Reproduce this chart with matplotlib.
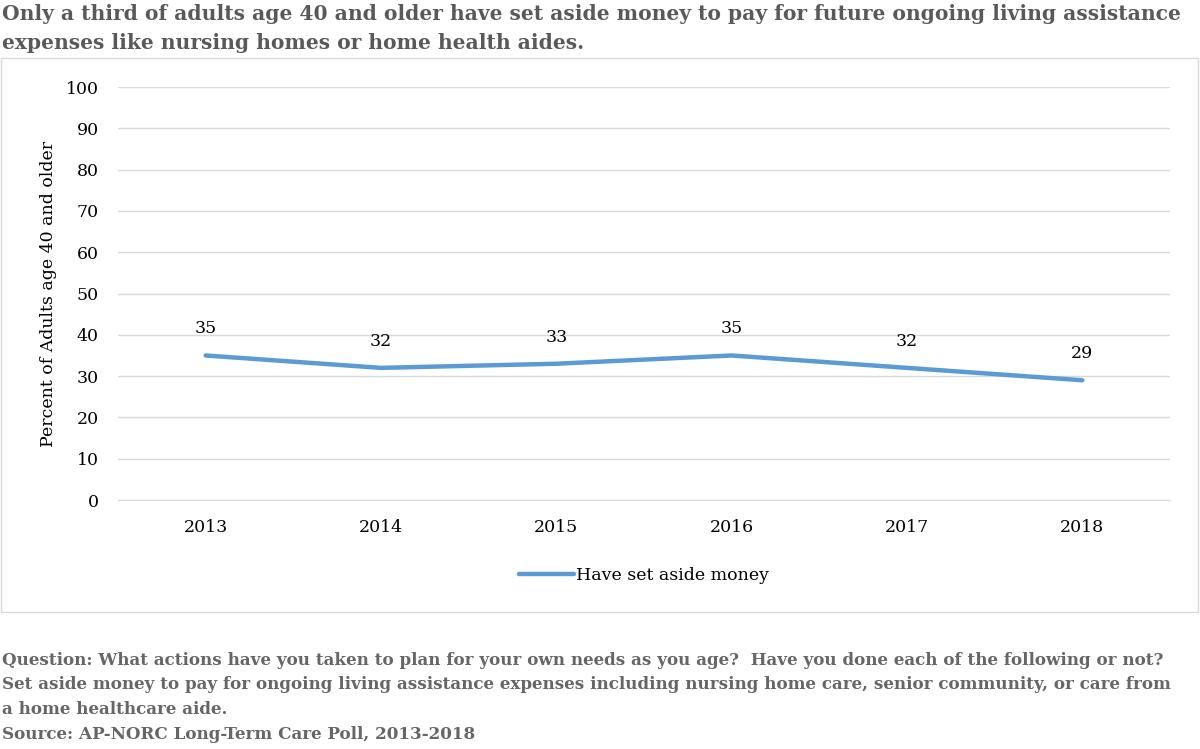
import matplotlib
matplotlib.use('Agg')
from matplotlib import pyplot as plt
from matplotlib.patches import Rectangle

years = ['2013', '2014', '2015', '2016', '2017', '2018']
set_aside = [35, 32, 33, 35, 32, 29]
series_name = 'Have set aside money'

title = ('Only a third of adults age 40 and older have set aside money to pay for future ongoing living assistance\n'
         'expenses like nursing homes or home health aides.')
footer = ['Question: What actions have you taken to plan for your own needs as you age?  Have you done each of the following or not?',
          'Set aside money to pay for ongoing living assistance expenses including nursing home care, senior community, or care from',
          'a home healthcare aide.',
          'Source: AP-NORC Long-Term Care Poll, 2013-2018']

plt.rcParams['font.family'] = ['DejaVu Serif']

fig = plt.figure(figsize=(12, 7.49), dpi=100)

# chart frame
fig.patches.append(Rectangle((0.001, 0.183), 0.997, 0.740, transform=fig.transFigure,
                             fill=False, edgecolor='#d9d9d9', linewidth=1))

ax = fig.add_axes([0.0983, 0.3324, 0.8767, 0.5514])
x = list(range(len(years)))
ax.plot(x, set_aside, color='#5b9bd5', linewidth=3.2, solid_capstyle='round', label=series_name)
for xi, v in zip(x, set_aside):
    ax.annotate(str(v), (xi, v), xytext=(0, 13), textcoords='offset points',
                ha='center', va='bottom', fontsize=12.5, color='black')

ax.set_xlim(-0.5, 5.5)
ax.set_ylim(0, 100)
ax.set_yticks(range(0, 101, 10))
ax.set_xticks(x)
ax.set_xticklabels(years)
ax.tick_params(axis='both', length=0, labelsize=12.5, colors='black')
ax.tick_params(axis='y', pad=14)
ax.tick_params(axis='x', pad=14)
ax.grid(axis='y', color='#d9d9d9', linewidth=1)
ax.set_axisbelow(True)
for s in ax.spines.values():
    s.set_visible(False)
ax.spines['bottom'].set_visible(True)
ax.spines['bottom'].set_color('#d9d9d9')
ax.set_ylabel('Percent of Adults age 40 and older', fontsize=12.5, labelpad=6)

leg = ax.legend(loc='upper center', bbox_to_anchor=(0.5, -0.125), frameon=False,
                fontsize=12.5, handlelength=3.2, handletextpad=0.1)

fig.text(0.002, 0.995, title, ha='left', va='top', fontsize=14.6, fontweight='bold',
         color='#595959', linespacing=1.6)
fig.text(0.002, 0.130, '\n'.join(footer), ha='left', va='top', fontsize=12.1,
         fontweight='bold', color='#666666', linespacing=1.6)

fig.savefig('out.png', dpi=100)
